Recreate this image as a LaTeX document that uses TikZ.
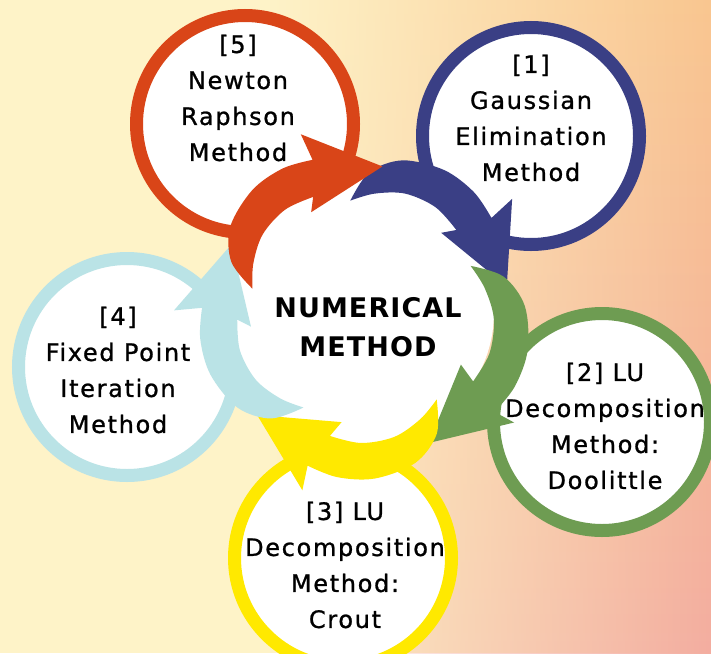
\documentclass[tikz,border=0pt]{standalone}
\usepackage{fontspec}
\setmainfont{DejaVu Sans}
\newfontfamily\lblfont{DejaVu Sans}[LetterSpace=7,FakeBold=1]
\newfontfamily\ctrfont{DejaVu Sans}[LetterSpace=4]
\usetikzlibrary{fadings}
\definecolor{cRed}{HTML}{D94518}
\definecolor{cBlue}{HTML}{3A3F85}
\definecolor{cGreen}{HTML}{6E9C52}
\definecolor{cYellow}{HTML}{FFE900}
\definecolor{cLBlue}{HTML}{BAE3E6}
\definecolor{bgCream}{HTML}{FEF3C8}
\definecolor{bgPeach}{HTML}{F9C690}
\definecolor{bgSalmon}{HTML}{F3A283}
\definecolor{bgPink}{HTML}{F3ADA0}
\tikzfading[name=fadeRight, left color=transparent!100, right color=transparent!0]
\newcommand{\CycArrow}[3]{% tip angle, colour, radial offset
  \fill[#2] plot[smooth, tension=0.55] coordinates {({#1-86}:{112+#3}) ({#1-77}:{140+#3}) ({#1-65}:{157+#3}) ({#1-50}:{164+#3}) ({#1-37}:{164+#3}) ({#1-26}:{160+#3})}
    -- ({#1-27}:188) -- (#1:147) -- ({#1-35}:112) --
    plot[smooth, tension=0.55] coordinates {({#1-31}:{125+#3}) ({#1-45}:{128+#3}) ({#1-60}:{126+#3}) ({#1-74}:{119+#3}) ({#1-86}:{112+#3})} -- cycle;}
\begin{document}
\begin{tikzpicture}[x=1pt,y=-1pt,
  ring/.style={circle, draw=#1, line width=13pt, fill=white, minimum size=217pt, inner sep=0pt},
  lbl/.style={font=\lblfont\fontsize{24}{36}\selectfont, align=center, text=black, inner sep=0pt},
  ctr/.style={font=\ctrfont\bfseries\fontsize{27}{39}\selectfont, align=center, text=black, inner sep=0pt}]
\useasboundingbox (0,0) rectangle (711,653);
\clip (0,0) rectangle (711,653);
% background
\fill[bgCream] (0,0) rectangle (711,653);
\shade[top color=bgPeach, middle color=bgSalmon, bottom color=bgPink, path fading=fadeRight] (270,0) rectangle (711,653);
% circles
\node[ring=cRed] (c5) at (245,124) {};
\node[ring=cBlue] (c1) at (531,136) {};
\node[ring=cGreen] (c2) at (602,422) {};
\node[ring=cYellow] (c3) at (343,558) {};
\node[ring=cLBlue] (c4) at (127,367) {};
% centre
\fill[white] (362,312) circle (132pt);
\begin{scope}[shift={(362,312)}]
  \CycArrow{350}{cBlue}{0}
  \CycArrow{63}{cGreen}{6}
  \CycArrow{135.5}{cYellow}{3}
  \CycArrow{207.5}{cLBlue}{0}
  \CycArrow{278}{cRed}{0}
\end{scope}
% texts
\node[ctr] (ctr) at (368,327) {NUMERICAL\\METHOD};
\node[lbl] (t5) at (238,98) {[5]\\Newton\\Raphson\\Method};
\node[lbl] (t1) at (531,118) {[1]\\Gaussian\\Elimination\\Method};
\node[lbl] (t2) at (605,426) {[2] LU\\Decomposition\\Method:\\Doolittle};
\node[lbl] (t3) at (345,565) {[3] LU\\Decomposition\\Method:\\Crout};
\node[lbl] (t4) at (118,370) {[4]\\Fixed Point\\Iteration\\Method};
\end{tikzpicture}
\end{document}
